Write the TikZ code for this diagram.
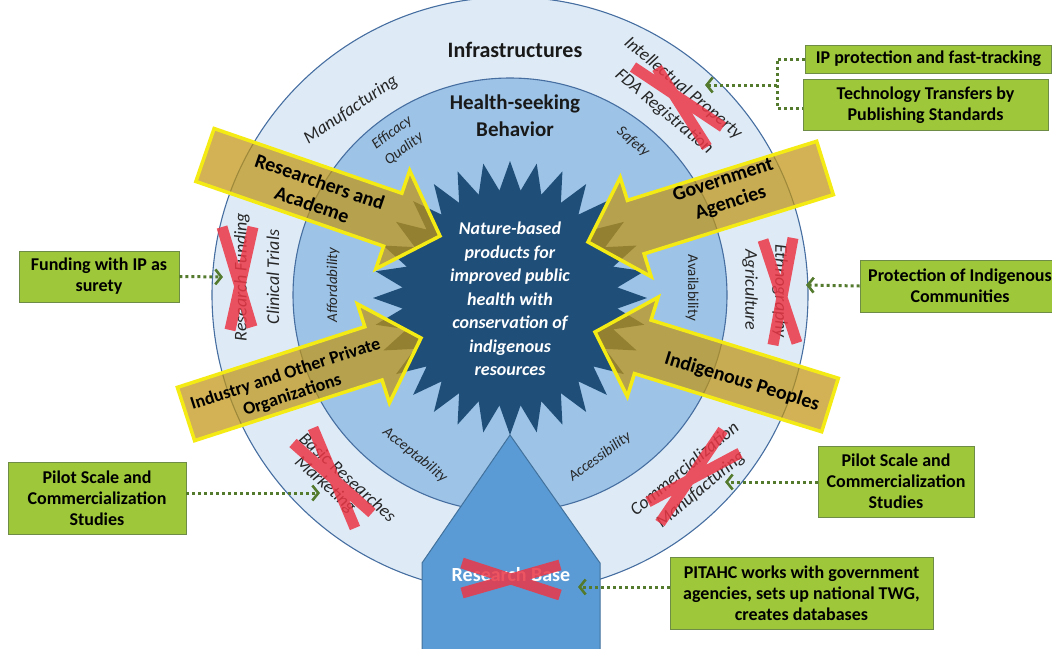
\documentclass[tikz,border=0pt]{standalone}
\usepackage{fontspec}
\setmainfont{Carlito}
\usetikzlibrary{shapes.geometric,arrows.meta,calc}

\definecolor{ringpale}{RGB}{222,235,247}
\definecolor{ringmid}{RGB}{157,195,230}
\definecolor{ringedge}{RGB}{70,110,160}
\definecolor{starnavy}{RGB}{31,78,121}
\definecolor{basefill}{RGB}{91,155,213}
\definecolor{baseedge}{RGB}{65,113,156}
\definecolor{goldfill}{RGB}{192,148,20}
\definecolor{goldedge}{RGB}{245,235,20}
\definecolor{crossred}{RGB}{235,55,70}
\definecolor{boxfill}{RGB}{158,199,58}
\definecolor{boxedge}{RGB}{110,140,70}
\definecolor{linkgreen}{RGB}{84,122,46}

\newcommand\fsz[2]{\fontsize{#1}{#2}\selectfont}

% block arrow from tail #1 to tip #2
\newcommand\goldarrow[2]{%
  \coordinate (#1-base) at ($(#2)!50pt!(#1)$);
  \filldraw[goldshape]
    ($(#1)!28pt!90:(#2)$) -- ($(#1-base)!28pt!90:(#2)$) -- ($(#1-base)!52pt!90:(#2)$) -- (#2)
    -- ($(#1-base)!52pt!-90:(#2)$) -- ($(#1-base)!28pt!-90:(#2)$) -- ($(#1)!28pt!-90:(#2)$) -- cycle;
}

\begin{document}
\begin{tikzpicture}[x=1pt,y=-1pt,
  ringline/.style={draw=ringedge, line width=1.1pt},
  outerlbl/.style={font=\fsz{18}{22}\itshape, text=black!85, inner sep=0pt},
  innerlbl/.style={font=\fsz{15}{19}\itshape, text=black!85, inner sep=0pt},
  innerup/.style={font=\fsz{15}{19}, text=black!85, inner sep=0pt},
  heading/.style={font=\fsz{21}{27}\bfseries, align=center, inner sep=0pt, text=black!90},
  goldshape/.style={fill=goldfill, fill opacity=0.72, draw=goldedge, line width=3.5pt, line join=miter},
  armlbl/.style={font=\fsz{20}{24}\bfseries, align=center, inner sep=0pt},
  startext/.style={font=\fsz{18}{23.5}\bfseries\itshape, text=white, align=center, inner sep=0pt},
  xbar/.style={draw=crossred, draw opacity=0.85, line width=11pt},
  note/.style={draw=boxedge, fill=boxfill, line width=0.9pt, font=\fsz{18}{21}\bfseries, align=center, inner sep=0pt},
  link/.style={draw=linkgreen, line width=3pt, dash pattern=on 3pt off 3pt},
  linkhead/.style={link, -{Straight Barb[length=6pt,width=15pt,line width=2.6pt]}},
]
\useasboundingbox (0,0) rectangle (1052,648);
\clip (0,0) rectangle (1052,648);

% concentric rings
\coordinate (hub) at (510,295);
\filldraw[fill=ringpale, ringline] (hub) circle[radius=298pt];
\filldraw[fill=ringmid, ringline] (hub) circle[radius=217pt];

% central star
\node[star, star points=32, star point ratio=1.27, minimum size=274pt, inner sep=0pt, fill=starnavy] (core) at (510,298) {};

% research base
\filldraw[fill=basefill, draw=baseedge, line width=1pt] (422,652) -- (422,563) -- (510,435) -- (600,563) -- (600,652) -- cycle;
\node[font=\fsz{20}{24}\bfseries, text=white, inner sep=0pt] (base) at (511,575) {Research Base};

% outer ring labels
\node[heading, font=\fsz{22}{27}\bfseries] (infra) at (515,50) {Infrastructures};
\node[outerlbl, rotate=34] (manuf) at (351,110) {Manufacturing};
\node[outerlbl, rotate=-40] (ip) at (683,88) {Intellectual Property};
\node[outerlbl, rotate=-40] (fda) at (664,112) {FDA Registration};
\node[outerlbl, rotate=90] (funding) at (242,277) {Research Funding};
\node[outerlbl, rotate=90] (trials) at (273,277) {Clinical Trials};
\node[outerlbl, rotate=-90] (agri) at (750,290) {Agriculture};
\node[outerlbl, rotate=-90] (ethno) at (780,291) {Ethnography};
\node[outerlbl, rotate=-42] (basic) at (348,477) {Basic Researches};
\node[outerlbl, rotate=-42] (market) at (325,485) {Marketing};
\node[outerlbl, rotate=40] (commerc) at (684,468) {Commercialization};
\node[outerlbl, rotate=40] (manuf2) at (701,490) {Manufacturing};

% inner ring labels
\node[heading] (health) at (515,116) {Health-seeking\\Behavior};
\node[innerlbl, rotate=37, align=center, font=\fsz{15}{20}\itshape] (efficacy) at (398,141) {Efficacy\\Quality};
\node[innerlbl, rotate=-40] (safety) at (633,142) {Safety};
\node[innerlbl, rotate=90] (afford) at (333,285) {Affordability};
\node[innerup, rotate=-90] (avail) at (692,288) {Availability};
\node[innerlbl, rotate=-39] (accept) at (415,455) {Acceptability};
\node[innerlbl, rotate=36] (access) at (600,457) {Accessibility};

% stakeholder arrows
\coordinate (rtail) at (205,155); \coordinate (rtip) at (440,236);
\coordinate (itail) at (186,414); \coordinate (itip) at (421,338);
\coordinate (gtail) at (825,168); \coordinate (gtip) at (588,242);
\coordinate (ptail) at (830,405); \coordinate (ptip) at (595,332);
\goldarrow{rtail}{rtip}
\goldarrow{itail}{itip}
\goldarrow{gtail}{gtip}
\goldarrow{ptail}{ptip}
\node[armlbl, rotate=-19] (researchers) at (316,193) {Researchers and\\Academe};
\node[armlbl, rotate=18, font=\fsz{18}{22}\bfseries] (industry) at (289,385) {Industry and Other Private\\Organizations};
\node[armlbl, rotate=18] (government) at (727,192) {Government\\Agencies};
\node[armlbl, rotate=-17] (indigenous) at (742,382) {Indigenous Peoples};

% central message
\node[startext] (coretext) at (510,299) {Nature-based\\products for\\improved public\\health with\\conservation of\\indigenous\\resources};

% struck-out items
\draw[xbar] (633,67) -- (723,127) (657,68) -- (707,147);
\draw[xbar] (222,227) -- (252,327) (253,227) -- (230,330);
\draw[xbar] (763,240) -- (797,343) (793,238) -- (773,345);
\draw[xbar] (293,443) -- (372,513) (313,428) -- (355,528);
\draw[xbar] (648,502) -- (740,453) (660,523) -- (723,430);
\draw[xbar] (462,563) -- (560,595) (462,593) -- (560,565);

% proposals
\node[note, minimum width=246pt, minimum height=28pt] (ipnote) at (928.5,59) {IP protection and fast-tracking};
\node[note, minimum width=245pt, minimum height=51pt] (technote) at (925.5,105) {Technology Transfers by\\Publishing Standards};
\node[note, minimum width=160pt, minimum height=51pt] (fundnote) at (99,276.5) {Funding with IP as\\surety};
\node[note, minimum width=200pt, minimum height=52pt] (protnote) at (960,286) {Protection of Indigenous\\Communities};
\node[note, minimum width=178pt, minimum height=72pt] (pilotL) at (97,498) {Pilot Scale and\\Commercialization\\Studies};
\node[note, minimum width=156pt, minimum height=71pt] (pilotR) at (896,481.5) {Pilot Scale and\\Commercialization\\Studies};
\node[note, minimum width=263pt, minimum height=72pt] (pitahc) at (801.5,593) {PITAHC works with government\\agencies, sets up national TWG,\\creates databases};

% connector ends
\coordinate (join) at (777,85);
\coordinate (tipA) at (705,85);
\coordinate (tipB) at (223,277);
\coordinate (tipC) at (806,285);
\coordinate (tipD) at (320,493);
\coordinate (tipE) at (725,482);
\coordinate (tipF) at (578,587);

\draw[link] (ipnote.west) -- (ipnote.west -| join) -- ($(technote.west -| join)+(0,3)$) -- ($(technote.west)+(0,3)$);
\draw[linkhead] (join) -- (tipA);
\draw[linkhead] (fundnote.east) -- (tipB);
\draw[linkhead] (protnote.west) -- (tipC);
\draw[linkhead] (pilotL.east |- tipD) -- (tipD);
\draw[linkhead] (pilotR.west |- tipE) -- (tipE);
\draw[linkhead] (pitahc.west |- tipF) -- (tipF);
\end{tikzpicture}
\end{document}
